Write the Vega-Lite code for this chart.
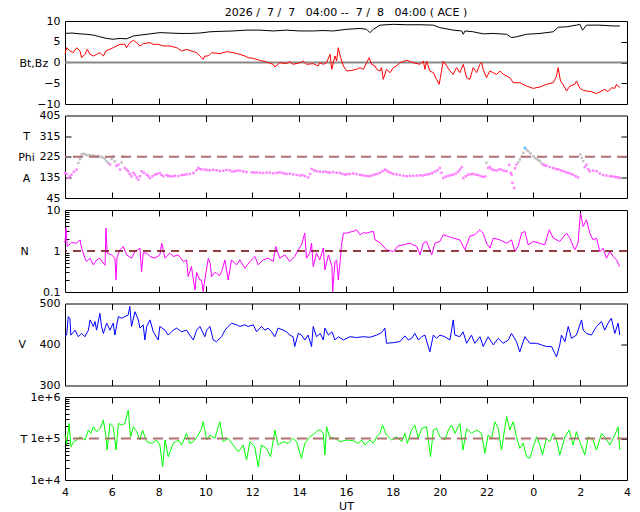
{
"$schema": "https://vega.github.io/schema/vega-lite/v6.json",
"padding": {"left": 17, "top": 6, "right": 5, "bottom": 4},
"background": "white",
"config": {
  "font": "DejaVu Sans",
  "view": {"stroke": "#000000", "strokeWidth": 1},
  "axis": {"labelFont": "DejaVu Sans", "labelFontSize": 11, "labelColor": "#000000", "titleFont": "DejaVu Sans", "titleFontSize": 11, "titleFontWeight": "normal", "titleColor": "#000000", "domain": false, "grid": false, "tickColor": "#000000", "tickWidth": 1, "labelFlush": false, "labelOverlap": false}
},
"datasets": {
"bt": [{"t":4.0,"v":7.0},{"t":4.3,"v":7.1},{"t":4.64,"v":6.9},{"t":4.92,"v":6.8},{"t":5.21,"v":6.6},{"t":5.49,"v":6.2},{"t":5.78,"v":5.8},{"t":6.06,"v":5.6},{"t":6.35,"v":5.8},{"t":6.63,"v":5.7},{"t":6.92,"v":6.4},{"t":7.2,"v":6.6},{"t":7.63,"v":6.9},{"t":8.05,"v":7.2},{"t":8.48,"v":7.1},{"t":8.91,"v":7.0},{"t":9.33,"v":7.0},{"t":9.76,"v":7.1},{"t":10.19,"v":7.4},{"t":10.61,"v":7.5},{"t":11.18,"v":7.6},{"t":11.75,"v":7.8},{"t":12.32,"v":7.8},{"t":12.89,"v":7.6},{"t":13.46,"v":7.8},{"t":14.03,"v":7.6},{"t":14.6,"v":7.6},{"t":15.02,"v":7.7},{"t":15.46,"v":7.6},{"t":16.03,"v":8.0},{"t":16.6,"v":8.2},{"t":16.88,"v":8.0},{"t":17.02,"v":7.2},{"t":17.17,"v":8.0},{"t":17.45,"v":9.0},{"t":18.02,"v":9.2},{"t":18.59,"v":9.1},{"t":19.16,"v":9.1},{"t":19.73,"v":9.0},{"t":20.01,"v":8.4},{"t":20.58,"v":7.8},{"t":20.94,"v":7.6},{"t":21.01,"v":6.8},{"t":21.08,"v":7.6},{"t":21.43,"v":7.4},{"t":21.86,"v":6.9},{"t":22.29,"v":7.0},{"t":22.86,"v":6.8},{"t":23.07,"v":6.0},{"t":23.28,"v":6.2},{"t":23.71,"v":6.8},{"t":24.28,"v":7.0},{"t":24.85,"v":7.4},{"t":25.06,"v":8.5},{"t":25.42,"v":8.6},{"t":25.84,"v":9.0},{"t":25.99,"v":9.2},{"t":26.1,"v":7.8},{"t":26.27,"v":9.0},{"t":26.84,"v":9.0},{"t":27.41,"v":8.8},{"t":27.69,"v":8.8}],
"bz": [{"t":4.0,"v":2.13},{"t":4.07,"v":3.57},{"t":4.21,"v":2.77},{"t":4.36,"v":2.37},{"t":4.5,"v":3.57},{"t":4.64,"v":2.77},{"t":4.71,"v":1.16},{"t":4.85,"v":1.97},{"t":4.95,"v":3.17},{"t":5.07,"v":1.97},{"t":5.21,"v":1.57},{"t":5.35,"v":1.97},{"t":5.49,"v":2.37},{"t":5.64,"v":1.57},{"t":5.75,"v":2.77},{"t":6.06,"v":3.57},{"t":6.35,"v":4.38},{"t":6.56,"v":4.38},{"t":6.63,"v":3.57},{"t":6.77,"v":4.78},{"t":6.92,"v":5.34},{"t":7.06,"v":4.78},{"t":7.2,"v":3.98},{"t":7.34,"v":4.54},{"t":7.63,"v":4.78},{"t":7.77,"v":4.38},{"t":7.98,"v":4.38},{"t":8.2,"v":3.98},{"t":8.48,"v":3.98},{"t":8.77,"v":3.57},{"t":8.98,"v":2.77},{"t":9.19,"v":3.17},{"t":9.41,"v":2.77},{"t":9.62,"v":2.37},{"t":9.9,"v":0.76},{"t":9.97,"v":1.57},{"t":10.12,"v":1.57},{"t":10.26,"v":2.37},{"t":10.61,"v":2.13},{"t":10.9,"v":2.61},{"t":11.18,"v":2.37},{"t":11.47,"v":1.97},{"t":11.68,"v":1.57},{"t":11.82,"v":1.16},{"t":12.04,"v":1.0},{"t":12.32,"v":0.52},{"t":12.61,"v":0.12},{"t":12.89,"v":-0.44},{"t":12.96,"v":-1.08},{"t":13.17,"v":-0.04},{"t":13.46,"v":-0.28},{"t":13.6,"v":0.2},{"t":13.74,"v":-0.44},{"t":14.03,"v":-0.04},{"t":14.17,"v":0.36},{"t":14.31,"v":-0.44},{"t":14.6,"v":-0.28},{"t":14.81,"v":-0.84},{"t":14.88,"v":-0.04},{"t":15.03,"v":-0.45},{"t":15.17,"v":-0.04},{"t":15.32,"v":1.97},{"t":15.39,"v":-1.65},{"t":15.46,"v":-0.04},{"t":15.53,"v":1.57},{"t":15.6,"v":0.36},{"t":15.67,"v":3.57},{"t":15.77,"v":1.16},{"t":15.89,"v":-0.84},{"t":16.03,"v":-2.05},{"t":16.24,"v":-1.89},{"t":16.45,"v":-1.65},{"t":16.6,"v":-1.24},{"t":16.74,"v":-1.65},{"t":16.88,"v":-0.04},{"t":16.99,"v":1.16},{"t":17.09,"v":-0.44},{"t":17.24,"v":-0.84},{"t":17.31,"v":-1.65},{"t":17.45,"v":-2.05},{"t":17.52,"v":-1.24},{"t":17.59,"v":-4.06},{"t":17.73,"v":-1.65},{"t":17.88,"v":-2.45},{"t":18.02,"v":-1.24},{"t":18.16,"v":-0.84},{"t":18.3,"v":-0.04},{"t":18.59,"v":0.52},{"t":18.87,"v":-0.04},{"t":19.16,"v":-0.44},{"t":19.3,"v":0.36},{"t":19.37,"v":-1.65},{"t":19.44,"v":0.36},{"t":19.58,"v":-2.05},{"t":19.73,"v":-2.45},{"t":19.87,"v":-4.06},{"t":19.98,"v":-5.26},{"t":20.08,"v":-2.05},{"t":20.15,"v":0.36},{"t":20.3,"v":-0.84},{"t":20.44,"v":-2.05},{"t":20.58,"v":-2.86},{"t":20.72,"v":-1.24},{"t":20.86,"v":-2.45},{"t":21.01,"v":-0.44},{"t":21.15,"v":-3.66},{"t":21.29,"v":-4.06},{"t":21.43,"v":-1.24},{"t":21.58,"v":-2.45},{"t":21.72,"v":-0.44},{"t":21.79,"v":-0.04},{"t":21.86,"v":-1.65},{"t":22.0,"v":-3.66},{"t":22.14,"v":-2.05},{"t":22.29,"v":-2.45},{"t":22.43,"v":-2.86},{"t":22.57,"v":-2.05},{"t":22.71,"v":-2.86},{"t":22.86,"v":-3.25},{"t":23.0,"v":-3.66},{"t":23.14,"v":-4.87},{"t":23.42,"v":-4.87},{"t":23.71,"v":-5.67},{"t":23.99,"v":-6.23},{"t":24.28,"v":-5.91},{"t":24.56,"v":-5.26},{"t":24.85,"v":-4.87},{"t":24.99,"v":-3.25},{"t":25.06,"v":-1.24},{"t":25.16,"v":-4.46},{"t":25.27,"v":-5.26},{"t":25.42,"v":-6.87},{"t":25.56,"v":-5.67},{"t":25.77,"v":-5.26},{"t":25.84,"v":-4.46},{"t":25.99,"v":-6.23},{"t":26.13,"v":-6.71},{"t":26.27,"v":-6.87},{"t":26.48,"v":-7.03},{"t":26.7,"v":-7.51},{"t":26.91,"v":-6.87},{"t":27.05,"v":-6.47},{"t":27.19,"v":-7.03},{"t":27.34,"v":-6.07},{"t":27.48,"v":-6.23},{"t":27.55,"v":-5.26},{"t":27.69,"v":-6.07}],
"phi": [{"t":4.0,"v":154},{"t":4.07,"v":150},{"t":4.14,"v":132},{"t":4.21,"v":140},{"t":4.28,"v":147},{"t":4.38,"v":160},{"t":4.5,"v":169},{"t":4.57,"v":198},{"t":4.64,"v":215},{"t":4.71,"v":235},{"t":4.78,"v":238},{"t":4.85,"v":236},{"t":4.92,"v":232},{"t":5.0,"v":233},{"t":5.07,"v":230},{"t":5.14,"v":229},{"t":5.21,"v":231},{"t":5.28,"v":228},{"t":5.35,"v":227},{"t":5.42,"v":229},{"t":5.49,"v":226},{"t":5.56,"v":224},{"t":5.64,"v":220},{"t":5.71,"v":214},{"t":5.78,"v":205},{"t":5.85,"v":198},{"t":5.92,"v":191},{"t":5.99,"v":215},{"t":6.06,"v":227},{"t":6.13,"v":205},{"t":6.2,"v":185},{"t":6.28,"v":191},{"t":6.35,"v":169},{"t":6.42,"v":200},{"t":6.49,"v":227},{"t":6.56,"v":176},{"t":6.63,"v":168},{"t":6.7,"v":162},{"t":6.77,"v":150},{"t":6.84,"v":140},{"t":6.92,"v":155},{"t":6.99,"v":147},{"t":7.06,"v":135},{"t":7.13,"v":125},{"t":7.2,"v":140},{"t":7.27,"v":162},{"t":7.37,"v":155},{"t":7.49,"v":147},{"t":7.56,"v":140},{"t":7.63,"v":132},{"t":7.74,"v":140},{"t":7.84,"v":147},{"t":7.94,"v":150},{"t":8.05,"v":154},{"t":8.12,"v":146},{"t":8.2,"v":140},{"t":8.34,"v":145},{"t":8.41,"v":141},{"t":8.48,"v":140},{"t":8.59,"v":139},{"t":8.69,"v":142},{"t":8.84,"v":141},{"t":8.98,"v":145},{"t":9.09,"v":146},{"t":9.19,"v":148},{"t":9.33,"v":150},{"t":9.48,"v":154},{"t":9.62,"v":166},{"t":9.69,"v":176},{"t":9.76,"v":172},{"t":9.83,"v":170},{"t":9.97,"v":169},{"t":10.08,"v":167},{"t":10.19,"v":166},{"t":10.33,"v":168},{"t":10.47,"v":166},{"t":10.61,"v":163},{"t":10.76,"v":164},{"t":10.9,"v":167},{"t":11.04,"v":166},{"t":11.15,"v":160},{"t":11.25,"v":162},{"t":11.36,"v":165},{"t":11.47,"v":164},{"t":11.61,"v":161},{"t":11.75,"v":158},{"t":11.97,"v":157},{"t":12.08,"v":156},{"t":12.18,"v":157},{"t":12.32,"v":155},{"t":12.46,"v":154},{"t":12.61,"v":156},{"t":12.75,"v":155},{"t":12.89,"v":153},{"t":13.03,"v":154},{"t":13.14,"v":157},{"t":13.25,"v":156},{"t":13.36,"v":152},{"t":13.46,"v":150},{"t":13.6,"v":151},{"t":13.74,"v":148},{"t":13.89,"v":146},{"t":14.03,"v":143},{"t":14.14,"v":145},{"t":14.24,"v":140},{"t":14.38,"v":135},{"t":14.46,"v":150},{"t":14.53,"v":172},{"t":14.64,"v":166},{"t":14.74,"v":162},{"t":14.88,"v":160},{"t":15.02,"v":159},{"t":15.13,"v":160},{"t":15.24,"v":157},{"t":15.32,"v":156},{"t":15.46,"v":158},{"t":15.6,"v":155},{"t":15.74,"v":154},{"t":15.85,"v":150},{"t":15.96,"v":147},{"t":16.06,"v":149},{"t":16.17,"v":150},{"t":16.31,"v":152},{"t":16.45,"v":149},{"t":16.6,"v":146},{"t":16.7,"v":144},{"t":16.81,"v":142},{"t":16.92,"v":141},{"t":17.02,"v":140},{"t":17.13,"v":144},{"t":17.24,"v":148},{"t":17.34,"v":150},{"t":17.45,"v":155},{"t":17.56,"v":162},{"t":17.66,"v":169},{"t":17.73,"v":165},{"t":17.81,"v":160},{"t":17.91,"v":155},{"t":18.02,"v":150},{"t":18.16,"v":148},{"t":18.3,"v":145},{"t":18.45,"v":142},{"t":18.59,"v":140},{"t":18.73,"v":141},{"t":18.87,"v":142},{"t":19.02,"v":143},{"t":19.16,"v":144},{"t":19.27,"v":143},{"t":19.37,"v":146},{"t":19.48,"v":148},{"t":19.58,"v":150},{"t":19.69,"v":154},{"t":19.8,"v":160},{"t":19.91,"v":166},{"t":20.01,"v":176},{"t":20.08,"v":155},{"t":20.15,"v":132},{"t":20.26,"v":138},{"t":20.37,"v":142},{"t":20.48,"v":145},{"t":20.58,"v":147},{"t":20.69,"v":152},{"t":20.79,"v":160},{"t":20.87,"v":170},{"t":20.94,"v":180},{"t":21.01,"v":132},{"t":21.12,"v":140},{"t":21.22,"v":147},{"t":21.33,"v":149},{"t":21.43,"v":150},{"t":21.54,"v":147},{"t":21.65,"v":145},{"t":21.75,"v":140},{"t":21.86,"v":137},{"t":21.95,"v":139},{"t":22.0,"v":198},{"t":22.07,"v":176},{"t":22.15,"v":180},{"t":22.22,"v":170},{"t":22.32,"v":167},{"t":22.43,"v":165},{"t":22.54,"v":170},{"t":22.64,"v":168},{"t":22.75,"v":164},{"t":22.86,"v":162},{"t":22.97,"v":190},{"t":23.03,"v":155},{"t":23.07,"v":147},{"t":23.11,"v":111},{"t":23.18,"v":89},{"t":23.22,"v":175},{"t":23.28,"v":191},{"t":23.35,"v":200},{"t":23.42,"v":213},{"t":23.5,"v":225},{"t":23.57,"v":242},{"t":23.64,"v":263},{"t":23.71,"v":255},{"t":23.78,"v":249},{"t":23.88,"v":240},{"t":23.99,"v":227},{"t":24.07,"v":220},{"t":24.14,"v":215},{"t":24.21,"v":210},{"t":24.28,"v":206},{"t":24.35,"v":196},{"t":24.42,"v":191},{"t":24.49,"v":188},{"t":24.56,"v":185},{"t":24.7,"v":180},{"t":24.85,"v":176},{"t":24.96,"v":172},{"t":25.06,"v":170},{"t":25.17,"v":166},{"t":25.27,"v":162},{"t":25.38,"v":158},{"t":25.49,"v":155},{"t":25.59,"v":150},{"t":25.7,"v":147},{"t":25.8,"v":140},{"t":25.91,"v":135},{"t":26.01,"v":235},{"t":26.07,"v":220},{"t":26.13,"v":206},{"t":26.2,"v":180},{"t":26.27,"v":190},{"t":26.34,"v":170},{"t":26.41,"v":162},{"t":26.55,"v":164},{"t":26.7,"v":162},{"t":26.84,"v":152},{"t":26.98,"v":145},{"t":27.12,"v":143},{"t":27.27,"v":140},{"t":27.37,"v":139},{"t":27.48,"v":137},{"t":27.55,"v":136},{"t":27.62,"v":135},{"t":27.69,"v":132}],
"n": [{"t":4.0,"v":1.55},{"t":4.04,"v":3.62},{"t":4.1,"v":1.29},{"t":4.28,"v":1.61},{"t":4.5,"v":1.55},{"t":4.64,"v":1.87},{"t":4.71,"v":1.17},{"t":4.85,"v":0.667},{"t":4.92,"v":0.553},{"t":5.07,"v":0.667},{"t":5.21,"v":0.458},{"t":5.35,"v":0.606},{"t":5.49,"v":0.667},{"t":5.64,"v":0.503},{"t":5.71,"v":0.45},{"t":5.75,"v":3.62},{"t":5.8,"v":0.886},{"t":5.99,"v":0.805},{"t":6.13,"v":0.667},{"t":6.18,"v":0.197},{"t":6.22,"v":0.7},{"t":6.35,"v":1.07},{"t":6.49,"v":1.29},{"t":6.63,"v":0.805},{"t":6.84,"v":0.667},{"t":6.99,"v":0.97},{"t":7.2,"v":1.17},{"t":7.27,"v":0.315},{"t":7.34,"v":0.9},{"t":7.49,"v":0.886},{"t":7.63,"v":0.733},{"t":7.84,"v":0.667},{"t":8.05,"v":0.805},{"t":8.13,"v":1.55},{"t":8.27,"v":0.667},{"t":8.48,"v":0.886},{"t":8.62,"v":0.733},{"t":8.84,"v":0.805},{"t":9.05,"v":0.553},{"t":9.19,"v":0.6},{"t":9.26,"v":0.237},{"t":9.4,"v":0.417},{"t":9.55,"v":0.112},{"t":9.62,"v":0.3},{"t":9.76,"v":0.197},{"t":9.83,"v":0.197},{"t":9.9,"v":0.102},{"t":9.97,"v":0.197},{"t":10.12,"v":0.667},{"t":10.2,"v":0.5},{"t":10.26,"v":0.237},{"t":10.4,"v":0.3},{"t":10.47,"v":0.286},{"t":10.6,"v":0.25},{"t":10.69,"v":0.315},{"t":10.83,"v":0.606},{"t":10.97,"v":0.197},{"t":11.11,"v":0.606},{"t":11.33,"v":0.458},{"t":11.47,"v":0.606},{"t":11.68,"v":0.379},{"t":11.9,"v":0.553},{"t":12.11,"v":0.733},{"t":12.25,"v":0.458},{"t":12.46,"v":0.606},{"t":12.68,"v":0.667},{"t":12.89,"v":0.553},{"t":13.0,"v":1.29},{"t":13.17,"v":0.667},{"t":13.39,"v":0.805},{"t":13.6,"v":0.553},{"t":13.81,"v":0.733},{"t":13.96,"v":1.07},{"t":14.1,"v":1.41},{"t":14.24,"v":2.73},{"t":14.31,"v":0.667},{"t":14.45,"v":0.9},{"t":14.53,"v":1.55},{"t":14.6,"v":0.417},{"t":14.74,"v":0.886},{"t":14.88,"v":0.606},{"t":15.03,"v":1.17},{"t":15.1,"v":0.346},{"t":15.25,"v":0.805},{"t":15.4,"v":0.417},{"t":15.43,"v":0.102},{"t":15.53,"v":0.553},{"t":15.6,"v":0.606},{"t":15.67,"v":0.197},{"t":15.75,"v":0.553},{"t":15.8,"v":1.29},{"t":15.89,"v":2.73},{"t":16.03,"v":2.73},{"t":16.17,"v":2.9},{"t":16.31,"v":3.0},{"t":16.45,"v":3.3},{"t":16.6,"v":2.49},{"t":16.74,"v":2.8},{"t":16.88,"v":2.73},{"t":17.02,"v":2.9},{"t":17.17,"v":3.0},{"t":17.24,"v":1.87},{"t":17.45,"v":1.61},{"t":17.73,"v":1.07},{"t":18.02,"v":0.97},{"t":18.23,"v":1.34},{"t":18.45,"v":1.41},{"t":18.73,"v":1.55},{"t":19.02,"v":1.29},{"t":19.16,"v":0.805},{"t":19.3,"v":1.55},{"t":19.44,"v":1.71},{"t":19.66,"v":0.805},{"t":19.8,"v":1.55},{"t":20.01,"v":1.71},{"t":20.15,"v":2.49},{"t":20.37,"v":2.26},{"t":20.58,"v":2.06},{"t":20.86,"v":1.87},{"t":21.08,"v":1.07},{"t":21.29,"v":2.3},{"t":21.5,"v":2.49},{"t":21.72,"v":3.3},{"t":21.86,"v":2.73},{"t":22.0,"v":1.55},{"t":22.15,"v":1.17},{"t":22.29,"v":2.06},{"t":22.57,"v":1.87},{"t":22.86,"v":1.55},{"t":23.07,"v":1.87},{"t":23.21,"v":0.97},{"t":23.35,"v":1.29},{"t":23.5,"v":2.73},{"t":23.64,"v":3.0},{"t":23.78,"v":1.41},{"t":24.0,"v":1.71},{"t":24.28,"v":1.55},{"t":24.49,"v":1.41},{"t":24.68,"v":3.3},{"t":24.85,"v":2.06},{"t":25.13,"v":1.71},{"t":25.42,"v":2.73},{"t":25.56,"v":2.06},{"t":25.77,"v":1.07},{"t":25.91,"v":1.55},{"t":26.01,"v":8.43},{"t":26.13,"v":3.97},{"t":26.27,"v":5.79},{"t":26.41,"v":2.73},{"t":26.55,"v":1.87},{"t":26.7,"v":2.06},{"t":26.84,"v":0.97},{"t":26.98,"v":1.17},{"t":27.12,"v":0.667},{"t":27.27,"v":0.97},{"t":27.41,"v":0.733},{"t":27.55,"v":0.606},{"t":27.69,"v":0.417}],
"vel": [{"t":4.0,"v":423},{"t":4.07,"v":423},{"t":4.14,"v":468},{"t":4.21,"v":464},{"t":4.25,"v":423},{"t":4.43,"v":435},{"t":4.57,"v":419},{"t":4.71,"v":427},{"t":4.85,"v":419},{"t":5.0,"v":435},{"t":5.07,"v":460},{"t":5.21,"v":444},{"t":5.28,"v":456},{"t":5.35,"v":435},{"t":5.49,"v":476},{"t":5.56,"v":444},{"t":5.64,"v":427},{"t":5.78,"v":452},{"t":5.92,"v":435},{"t":6.06,"v":452},{"t":6.13,"v":423},{"t":6.28,"v":468},{"t":6.42,"v":464},{"t":6.56,"v":468},{"t":6.7,"v":472},{"t":6.77,"v":493},{"t":6.84,"v":444},{"t":6.99,"v":480},{"t":7.13,"v":460},{"t":7.2,"v":440},{"t":7.34,"v":448},{"t":7.41,"v":411},{"t":7.49,"v":444},{"t":7.63,"v":460},{"t":7.77,"v":431},{"t":7.98,"v":411},{"t":8.05,"v":444},{"t":8.27,"v":435},{"t":8.41,"v":423},{"t":8.62,"v":435},{"t":8.77,"v":440},{"t":8.98,"v":431},{"t":9.19,"v":435},{"t":9.33,"v":423},{"t":9.48,"v":411},{"t":9.62,"v":435},{"t":9.76,"v":444},{"t":9.97,"v":419},{"t":10.05,"v":435},{"t":10.19,"v":444},{"t":10.33,"v":411},{"t":10.47,"v":407},{"t":10.69,"v":419},{"t":10.83,"v":435},{"t":10.97,"v":444},{"t":11.11,"v":452},{"t":11.33,"v":448},{"t":11.47,"v":444},{"t":11.68,"v":448},{"t":11.82,"v":444},{"t":12.04,"v":448},{"t":12.18,"v":431},{"t":12.39,"v":444},{"t":12.53,"v":435},{"t":12.68,"v":440},{"t":12.82,"v":431},{"t":12.96,"v":419},{"t":13.1,"v":440},{"t":13.32,"v":435},{"t":13.46,"v":431},{"t":13.6,"v":423},{"t":13.74,"v":419},{"t":13.81,"v":395},{"t":13.96,"v":427},{"t":14.1,"v":423},{"t":14.24,"v":411},{"t":14.38,"v":423},{"t":14.53,"v":395},{"t":14.6,"v":444},{"t":14.74,"v":419},{"t":14.9,"v":427},{"t":15.03,"v":411},{"t":15.1,"v":440},{"t":15.25,"v":423},{"t":15.4,"v":431},{"t":15.53,"v":411},{"t":15.67,"v":419},{"t":15.89,"v":411},{"t":16.17,"v":419},{"t":16.45,"v":417},{"t":16.74,"v":419},{"t":17.02,"v":417.5},{"t":17.31,"v":423},{"t":17.52,"v":429},{"t":17.66,"v":440},{"t":17.73,"v":403},{"t":18.02,"v":404.5},{"t":18.3,"v":407},{"t":18.52,"v":421},{"t":18.66,"v":411},{"t":18.8,"v":415},{"t":18.94,"v":427},{"t":19.09,"v":411},{"t":19.23,"v":419},{"t":19.37,"v":423},{"t":19.58,"v":382},{"t":19.73,"v":423},{"t":19.87,"v":415},{"t":20.01,"v":423},{"t":20.22,"v":419},{"t":20.44,"v":411},{"t":20.58,"v":460},{"t":20.65,"v":423},{"t":20.86,"v":419},{"t":21.0,"v":431},{"t":21.15,"v":403},{"t":21.36,"v":423},{"t":21.5,"v":403},{"t":21.72,"v":419},{"t":21.86,"v":395},{"t":22.07,"v":419},{"t":22.29,"v":399},{"t":22.5,"v":415},{"t":22.71,"v":403},{"t":22.93,"v":411},{"t":23.07,"v":427},{"t":23.28,"v":407},{"t":23.42,"v":382},{"t":23.64,"v":419},{"t":23.85,"v":403},{"t":24.14,"v":403},{"t":24.35,"v":399},{"t":24.56,"v":395},{"t":24.78,"v":395},{"t":24.92,"v":378},{"t":24.99,"v":370},{"t":25.13,"v":399},{"t":25.2,"v":423},{"t":25.35,"v":407},{"t":25.49,"v":444},{"t":25.63,"v":415},{"t":25.84,"v":423},{"t":26.06,"v":460},{"t":26.13,"v":435},{"t":26.27,"v":427},{"t":26.48,"v":423},{"t":26.7,"v":444},{"t":26.91,"v":456},{"t":27.05,"v":435},{"t":27.19,"v":452},{"t":27.33,"v":464},{"t":27.48,"v":427},{"t":27.62,"v":452},{"t":27.69,"v":423}],
"temp": [{"t":4.0,"v":121000},{"t":4.07,"v":69600},{"t":4.17,"v":231000},{"t":4.26,"v":63500},{"t":4.36,"v":83700},{"t":4.5,"v":91900},{"t":4.64,"v":110000},{"t":4.85,"v":91900},{"t":5.0,"v":160000},{"t":5.1,"v":133000},{"t":5.21,"v":192000},{"t":5.35,"v":146000},{"t":5.5,"v":175000},{"t":5.64,"v":279000},{"t":5.75,"v":110000},{"t":5.8,"v":52700},{"t":5.92,"v":231000},{"t":6.06,"v":192000},{"t":6.18,"v":52700},{"t":6.28,"v":231000},{"t":6.42,"v":211000},{"t":6.56,"v":231000},{"t":6.7,"v":485000},{"t":6.8,"v":110000},{"t":6.92,"v":192000},{"t":7.06,"v":146000},{"t":7.2,"v":91900},{"t":7.31,"v":160000},{"t":7.49,"v":83700},{"t":7.7,"v":76300},{"t":7.91,"v":91900},{"t":8.05,"v":69600},{"t":8.17,"v":20900},{"t":8.27,"v":91900},{"t":8.41,"v":36400},{"t":8.62,"v":76300},{"t":8.84,"v":91900},{"t":8.98,"v":69600},{"t":9.19,"v":133000},{"t":9.33,"v":76300},{"t":9.48,"v":83700},{"t":9.69,"v":121000},{"t":9.83,"v":175000},{"t":9.9,"v":254000},{"t":10.05,"v":91900},{"t":10.19,"v":121000},{"t":10.4,"v":101000},{"t":10.61,"v":254000},{"t":10.76,"v":83700},{"t":10.97,"v":101000},{"t":11.18,"v":69600},{"t":11.4,"v":48100},{"t":11.61,"v":69600},{"t":11.75,"v":30300},{"t":11.9,"v":83700},{"t":12.1,"v":63500},{"t":12.25,"v":20900},{"t":12.39,"v":69600},{"t":12.6,"v":57800},{"t":12.78,"v":36400},{"t":12.96,"v":160000},{"t":13.1,"v":69600},{"t":13.32,"v":83700},{"t":13.53,"v":76300},{"t":13.74,"v":101000},{"t":13.89,"v":83700},{"t":14.1,"v":33200},{"t":14.24,"v":76300},{"t":14.45,"v":110000},{"t":14.67,"v":133000},{"t":14.81,"v":160000},{"t":14.9,"v":160000},{"t":15.03,"v":133000},{"t":15.1,"v":40000},{"t":15.17,"v":192000},{"t":15.3,"v":110000},{"t":15.53,"v":101000},{"t":15.75,"v":83700},{"t":16.03,"v":91900},{"t":16.31,"v":88500},{"t":16.53,"v":76300},{"t":16.67,"v":91900},{"t":16.81,"v":69600},{"t":17.02,"v":91900},{"t":17.17,"v":76300},{"t":17.31,"v":110000},{"t":17.45,"v":133000},{"t":17.56,"v":211000},{"t":17.73,"v":121000},{"t":17.95,"v":91900},{"t":18.16,"v":110000},{"t":18.38,"v":83700},{"t":18.52,"v":133000},{"t":18.62,"v":76300},{"t":18.8,"v":160000},{"t":18.94,"v":211000},{"t":19.09,"v":101000},{"t":19.23,"v":175000},{"t":19.44,"v":192000},{"t":19.61,"v":36400},{"t":19.73,"v":160000},{"t":19.87,"v":175000},{"t":20.01,"v":110000},{"t":20.22,"v":91900},{"t":20.37,"v":160000},{"t":20.51,"v":211000},{"t":20.65,"v":133000},{"t":20.86,"v":231000},{"t":21.0,"v":52700},{"t":21.15,"v":175000},{"t":21.36,"v":133000},{"t":21.58,"v":160000},{"t":21.79,"v":133000},{"t":21.93,"v":43800},{"t":22.07,"v":121000},{"t":22.22,"v":101000},{"t":22.36,"v":254000},{"t":22.5,"v":175000},{"t":22.64,"v":52700},{"t":22.79,"v":192000},{"t":22.86,"v":335000},{"t":23.0,"v":160000},{"t":23.14,"v":254000},{"t":23.28,"v":110000},{"t":23.42,"v":57800},{"t":23.57,"v":76300},{"t":23.71,"v":36400},{"t":23.85,"v":33200},{"t":24.0,"v":63500},{"t":24.14,"v":110000},{"t":24.28,"v":69600},{"t":24.39,"v":40000},{"t":24.56,"v":101000},{"t":24.7,"v":83700},{"t":24.85,"v":133000},{"t":24.99,"v":91900},{"t":25.13,"v":40000},{"t":25.35,"v":110000},{"t":25.53,"v":160000},{"t":25.7,"v":69600},{"t":25.84,"v":146000},{"t":25.98,"v":83700},{"t":26.2,"v":40000},{"t":26.34,"v":110000},{"t":26.55,"v":91900},{"t":26.7,"v":52700},{"t":26.91,"v":133000},{"t":27.05,"v":110000},{"t":27.27,"v":69600},{"t":27.48,"v":121000},{"t":27.62,"v":192000},{"t":27.69,"v":52700}]
},
"bounds": "flush",
"spacing": 11.5,
"vconcat": [
 {
  "width": 562, "height": 83,
  "title": {"text": "2026 /\u00a0 7 /\u00a0 7 \u00a0 04:00 --\u00a0 7 /\u00a0 8 \u00a0 04:00 ( ACE )", "font": "DejaVu Sans", "fontSize": 11, "fontWeight": "normal", "color": "#000000", "anchor": "middle", "frame": "group", "baseline": "alphabetic", "offset": -12},
  "resolve": {"axis": {"x": "independent", "y": "independent"}},
  "layer": [
   {"data": {"values": [{"v": 0}]}, "mark": {"type": "rule", "color": "#888888", "strokeWidth": 2},
    "encoding": {"y": {"field": "v", "type": "quantitative", "scale": {"domain": [-10, 10], "nice": false}, "axis": null}}},
   {"data": {"name": "bt"}, "mark": {"type": "line", "color": "#000000", "strokeWidth": 1},
    "encoding": {
     "x": {"field": "t", "type": "quantitative", "scale": {"domain": [4, 28], "nice": false, "zero": false}, "axis": {"orient": "bottom", "values": [6,8,10,12,14,16,18,20,22,24,26], "labels": false, "tickSize": -6, "title": null}},
     "y": {"field": "v", "type": "quantitative", "scale": {"domain": [-10, 10], "nice": false}, "axis": {"orient": "left", "values": [-10,-5,0,5,10], "ticks": false, "tickSize": 0, "labelPadding": 5, "title": "Bt,Bz", "titleAngle": 0, "titleAlign": "left", "titleBaseline": "middle", "titleX": -46, "titleY": 42}}
    }},
   {"data": {"name": "bz"}, "mark": {"type": "line", "color": "#ff0000", "strokeWidth": 1},
    "encoding": {
     "x": {"field": "t", "type": "quantitative", "scale": {"domain": [4, 28], "nice": false, "zero": false}, "axis": null},
     "y": {"field": "v", "type": "quantitative", "scale": {"domain": [-10, 10], "nice": false}, "axis": {"orient": "right", "values": [-5,0,5], "labels": false, "tickSize": -6, "title": null}}
    }}
  ]
 },
 {
  "width": 562, "height": 82.5,
  "resolve": {"axis": {"x": "independent", "y": "independent"}},
  "layer": [
   {"data": {"name": "phi"}, "mark": {"type": "square", "size": 6, "filled": true, "opacity": 1},
    "encoding": {
     "x": {"field": "t", "type": "quantitative", "scale": {"domain": [4, 28], "nice": false, "zero": false}, "axis": {"orient": "top", "values": [6,8,10,12,14,16,18,20,22,24,26], "labels": false, "tickSize": -6, "title": null}},
     "y": {"field": "v", "type": "quantitative", "scale": {"domain": [45, 405], "nice": false, "zero": false}, "axis": {"orient": "left", "values": [45,135,225,315,405], "ticks": false, "tickSize": 0, "labelPadding": 5, "title": ["T", "Phi", "A"], "titleLineHeight": 21, "titleAngle": 0, "titleAlign": "center", "titleBaseline": "middle", "titleX": -39, "titleY": 21}},
     "color": {"condition": [{"test": "datum.v < 195", "value": "#ff80ff"}, {"test": "datum.v > 255", "value": "#40c0ff"}], "value": "#c0c0c0"}
    }},
   {"data": {"name": "phi"}, "mark": {"type": "line", "strokeOpacity": 0},
    "encoding": {
     "x": {"field": "t", "type": "quantitative", "scale": {"domain": [4, 28], "nice": false, "zero": false}, "axis": {"orient": "bottom", "values": [6,8,10,12,14,16,18,20,22,24,26], "labels": false, "tickSize": -6, "title": null}},
     "y": {"field": "v", "type": "quantitative", "scale": {"domain": [45, 405], "nice": false, "zero": false}, "axis": {"orient": "left", "values": [135,225,315], "labels": false, "tickSize": -6, "title": null}}
    }},
   {"data": {"values": [{"v": 225}]}, "mark": {"type": "rule", "color": "#b07070", "strokeWidth": 2, "strokeDash": [10, 6]},
    "encoding": {"y": {"field": "v", "type": "quantitative", "scale": {"domain": [45, 405], "nice": false, "zero": false}, "axis": {"orient": "right", "values": [135,225,315], "labels": false, "tickSize": -6, "title": null}}}}
  ]
 },
 {
  "width": 562, "height": 82,
  "resolve": {"axis": {"x": "independent", "y": "independent"}},
  "layer": [
   {"data": {"name": "n"}, "mark": {"type": "line", "color": "#ff00ff", "strokeWidth": 1},
    "encoding": {
     "x": {"field": "t", "type": "quantitative", "scale": {"domain": [4, 28], "nice": false, "zero": false}, "axis": {"orient": "bottom", "values": [6,8,10,12,14,16,18,20,22,24,26], "labels": false, "tickSize": -6, "title": null}},
     "y": {"field": "v", "type": "quantitative", "scale": {"type": "log", "domain": [0.1, 10], "nice": false}, "axis": {"orient": "left", "values": [0.1, 1, 10], "labelExpr": "datum.value", "ticks": false, "tickSize": 0, "labelPadding": 5, "title": "N", "titleAngle": 0, "titleAlign": "left", "titleBaseline": "middle", "titleX": -45, "titleY": 41}}
    }},
   {"data": {"name": "n"}, "mark": {"type": "line", "strokeOpacity": 0},
    "encoding": {
     "x": {"field": "t", "type": "quantitative", "scale": {"domain": [4, 28], "nice": false, "zero": false}, "axis": {"orient": "top", "values": [6,8,10,12,14,16,18,20,22,24,26], "labels": false, "tickSize": -6, "title": null}},
     "y": {"field": "v", "type": "quantitative", "scale": {"type": "log", "domain": [0.1, 10], "nice": false}, "axis": {"orient": "left", "values": [0.2,0.3,0.4,0.5,0.6,0.7,0.8,0.9,2,3,4,5,6,7,8,9], "labels": false, "tickSize": -4, "title": null}}
    }},
   {"data": {"values": [{"v": 1}]}, "mark": {"type": "rule", "color": "#700000", "strokeWidth": 1.5, "strokeDash": [8, 6]},
    "encoding": {"y": {"field": "v", "type": "quantitative", "scale": {"type": "log", "domain": [0.1, 10], "nice": false}, "axis": null}}}
  ]
 },
 {
  "width": 562, "height": 82,
  "resolve": {"axis": {"x": "independent", "y": "independent"}},
  "layer": [
   {"data": {"name": "vel"}, "mark": {"type": "line", "color": "#0000ff", "strokeWidth": 1},
    "encoding": {
     "x": {"field": "t", "type": "quantitative", "scale": {"domain": [4, 28], "nice": false, "zero": false}, "axis": {"orient": "bottom", "values": [6,8,10,12,14,16,18,20,22,24,26], "labels": false, "tickSize": -6, "title": null}},
     "y": {"field": "v", "type": "quantitative", "scale": {"domain": [300, 500], "nice": false, "zero": false}, "axis": {"orient": "left", "values": [300, 400, 500], "ticks": false, "tickSize": 0, "labelPadding": 5, "title": "V", "titleAngle": 0, "titleAlign": "left", "titleBaseline": "middle", "titleX": -47, "titleY": 41}}
    }},
   {"data": {"name": "vel"}, "mark": {"type": "line", "strokeOpacity": 0},
    "encoding": {
     "x": {"field": "t", "type": "quantitative", "scale": {"domain": [4, 28], "nice": false, "zero": false}, "axis": {"orient": "top", "values": [6,8,10,12,14,16,18,20,22,24,26], "labels": false, "tickSize": -6, "title": null}},
     "y": {"field": "v", "type": "quantitative", "scale": {"domain": [300, 500], "nice": false, "zero": false}, "axis": {"orient": "right", "values": [400], "labels": false, "tickSize": -6, "title": null}}
    }}
  ]
 },
 {
  "width": 562, "height": 83,
  "resolve": {"axis": {"x": "independent", "y": "independent"}},
  "layer": [
   {"data": {"name": "temp"}, "mark": {"type": "line", "color": "#00ff00", "strokeWidth": 1},
    "encoding": {
     "x": {"field": "t", "type": "quantitative", "scale": {"domain": [4, 28], "nice": false, "zero": false}, "axis": {"orient": "bottom", "values": [4,6,8,10,12,14,16,18,20,22,24,26,28], "labelExpr": "datum.value % 24", "ticks": false, "tickSize": 0, "labelPadding": 6, "title": "UT", "titlePadding": 3}},
     "y": {"field": "v", "type": "quantitative", "scale": {"type": "log", "domain": [10000, 1000000], "nice": false}, "axis": {"orient": "left", "values": [10000, 100000, 1000000], "labelExpr": "'1e+' + round(log(datum.value) / LN10)", "ticks": false, "tickSize": 0, "labelPadding": 5, "title": "T", "titleAngle": 0, "titleAlign": "left", "titleBaseline": "middle", "titleX": -45, "titleY": 42}}
    }},
   {"data": {"name": "temp"}, "mark": {"type": "line", "strokeOpacity": 0},
    "encoding": {
     "x": {"field": "t", "type": "quantitative", "scale": {"domain": [4, 28], "nice": false, "zero": false}, "axis": {"orient": "top", "values": [6,8,10,12,14,16,18,20,22,24,26], "labels": false, "tickSize": -6, "title": null}},
     "y": {"field": "v", "type": "quantitative", "scale": {"type": "log", "domain": [10000, 1000000], "nice": false}, "axis": {"orient": "right", "values": [100000], "labels": false, "tickSize": -6, "title": null}}
    }},
   {"data": {"name": "temp"}, "mark": {"type": "line", "strokeOpacity": 0},
    "encoding": {
     "x": {"field": "t", "type": "quantitative", "scale": {"domain": [4, 28], "nice": false, "zero": false}, "axis": {"orient": "bottom", "values": [6,8,10,12,14,16,18,20,22,24,26], "labels": false, "tickSize": -6, "title": null}},
     "y": {"field": "v", "type": "quantitative", "scale": {"type": "log", "domain": [10000, 1000000], "nice": false}, "axis": {"orient": "left", "values": [20000,30000,40000,50000,60000,70000,80000,90000,200000,300000,400000,500000,600000,700000,800000,900000], "labels": false, "tickSize": -4, "title": null}}
    }},
   {"data": {"values": [{"v": 100000}]}, "mark": {"type": "rule", "color": "#b07070", "strokeWidth": 2, "strokeDash": [10, 6]},
    "encoding": {"y": {"field": "v", "type": "quantitative", "scale": {"type": "log", "domain": [10000, 1000000], "nice": false}, "axis": null}}}
  ]
 }
]
}
